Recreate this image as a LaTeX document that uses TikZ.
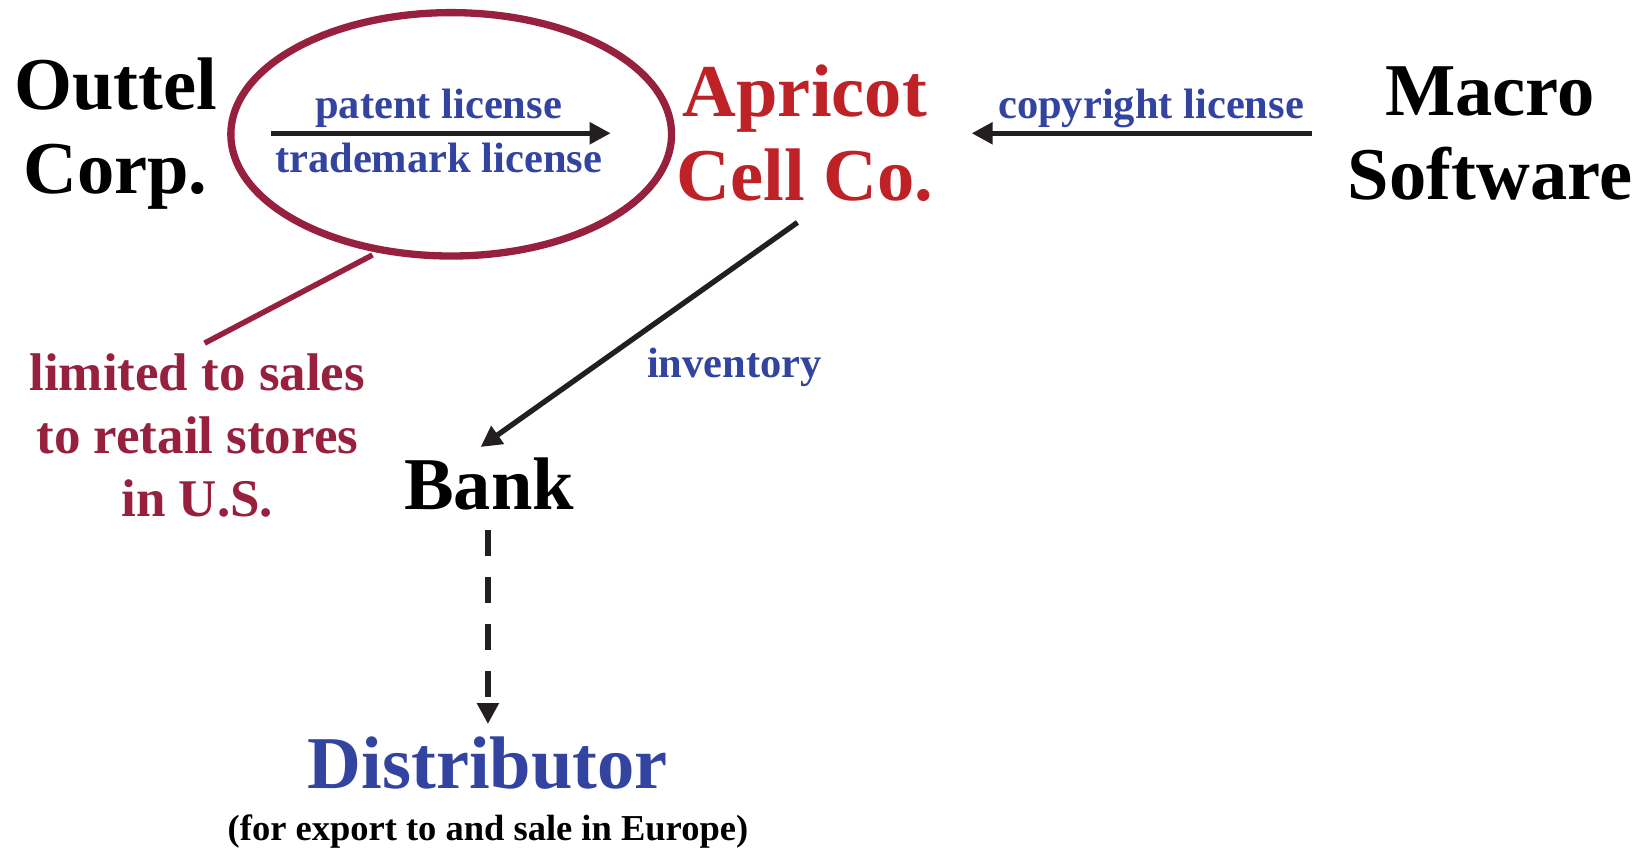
\documentclass[tikz,border=0pt]{standalone}
\usepackage{fontspec}
\setmainfont{Liberation Serif}
\usetikzlibrary{arrows.meta,shapes.geometric}
\definecolor{maroon}{RGB}{150,32,62}
\definecolor{appred}{RGB}{190,34,38}
\definecolor{lblue}{RGB}{50,68,160}
\definecolor{ink}{RGB}{35,31,32}
\tikzset{
  big/.style={font=\bfseries\fontsize{74.5}{84}\selectfont, align=center, inner sep=0pt},
  lab/.style={font=\bfseries\fontsize{42.5}{50}\selectfont, text=lblue, inner sep=0pt},
  note/.style={font=\bfseries\fontsize{53}{63}\selectfont, text=maroon, align=center, inner sep=0pt},
  flow/.style={draw=ink, line width=5.3pt, -{Triangle[length=21pt,width=21pt]}},
}
\begin{document}
\begin{tikzpicture}[x=1.0493pt,y=-1.0493pt]
\useasboundingbox (0,0) rectangle (1563.9,809.1);
% main parties
\node[big] (outtel) at (110,127) {Outtel\\Corp.};
\node[big, text=appred] (apricot) at (767,127) {Apricot\\Cell Co.};
\node[big] (macro) at (1420,127) {Macro\\Software};
\node[big] (bank) at (466,461) {Bank};
\node[big, text=lblue] (dist) at (465,727) {Distributor};
\node[font=\bfseries\fontsize{36.5}{42}\selectfont, inner sep=0pt] (distnote) at (465,792) {(for export to and sale in Europe)};
% ellipse with licences
\node[ellipse, draw=maroon, line width=7.3pt, minimum width=440.7pt, minimum height=243.4pt] (ell) at (430,128) {};
\coordinate (p1) at (258,127);
\coordinate (p2) at (582,127);
\draw[flow] (p1) -- (p2);
\node[lab] (patent) at (418,103) {patent license};
\node[lab] (trade) at (418,151) {trademark license};
% copyright
\coordinate (c1) at (1250,127);
\coordinate (c2) at (926,127);
\draw[flow] (c1) -- (c2);
\node[lab] (copy) at (1097,103) {copyright license};
% limitation note
\node[note] (limited) at (188,415) {limited to sales\\to retail stores\\in U.S.};
\coordinate (e1) at (355,243);
\coordinate (e2) at (195,327);
\draw[maroon, line width=5.5pt] (e1) -- (e2);
% inventory
\coordinate (i1) at (760,212);
\coordinate (i2) at (458,426);
\draw[flow] (i1) -- (i2);
\node[lab] (inv) at (700,350) {inventory};
% dashed
\coordinate (d1) at (465,505);
\coordinate (d2) at (465,690);
\draw[flow, dash pattern=on 26pt off 21pt] (d1) -- (d2);
\end{tikzpicture}
\end{document}
